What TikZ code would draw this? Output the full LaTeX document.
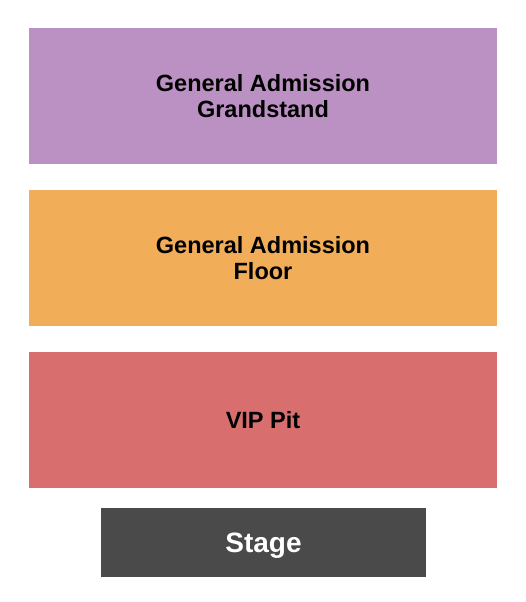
\documentclass[tikz,border=0pt]{standalone}
\usepackage{fontspec}
\setmainfont{Liberation Sans}
\usepackage{xcolor}
\usetikzlibrary{positioning}

\definecolor{grandstand}{HTML}{BB91C3}
\definecolor{floorarea}{HTML}{F2AD58}
\definecolor{vippit}{HTML}{D86E6E}
\definecolor{stagegray}{HTML}{4A4A4A}

\begin{document}
\begin{tikzpicture}[
  x=1pt, y=-1pt,
  section/.style={rectangle, inner sep=0pt, minimum width=468pt, minimum height=136pt, align=center,
    font=\fontsize{23.5}{26}\selectfont\bfseries},
  stagebox/.style={rectangle, inner sep=0pt, minimum width=325pt, minimum height=69pt, text depth=0pt,
    fill=stagegray, text=white, font=\fontsize{28}{30}\selectfont\bfseries}
]

% page frame
\useasboundingbox (0,0) rectangle (525,602);

% Seating sections
\node[section, fill=grandstand] (gastand) at (263,96) {General Admission\\Grandstand};
\node[section, fill=floorarea] (gafloor) at (263,258) {General Admission\\Floor};
\node[section, fill=vippit] (vip) at (263,420) {VIP Pit};

% Stage
\node[stagebox] (stage) at (263.5,542.5) {Stage};

\end{tikzpicture}
\end{document}
